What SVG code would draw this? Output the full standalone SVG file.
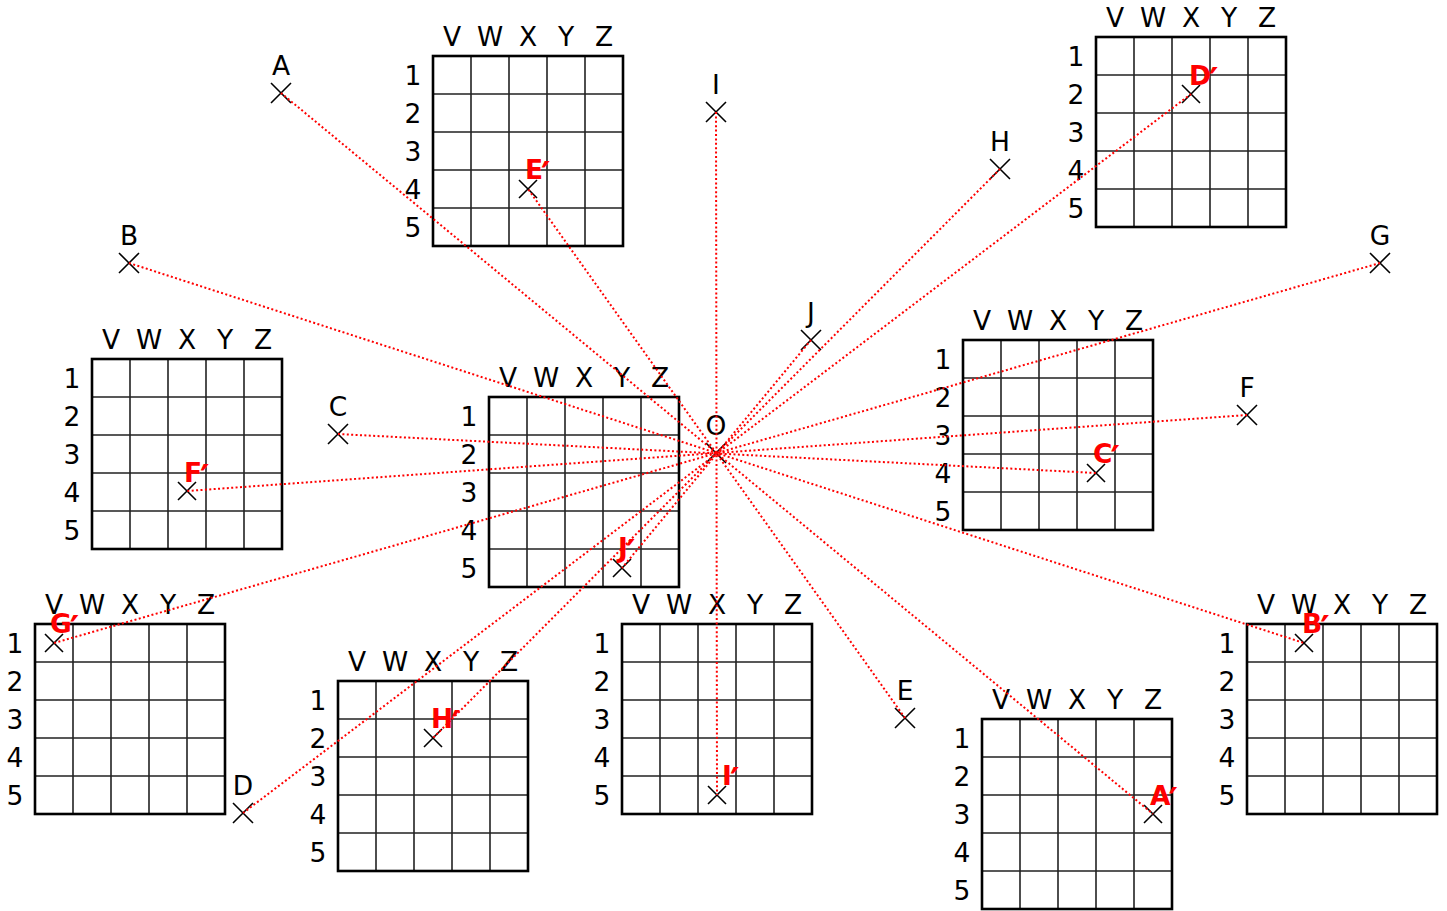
<svg xmlns="http://www.w3.org/2000/svg" xmlns:xlink="http://www.w3.org/1999/xlink" width="1447" height="911" viewBox="0 0 1447 911">
<style>
.lbl{font-family:"DejaVu Sans","Verdana",sans-serif;font-size:26.5px;fill:#000;text-anchor:middle}
.pl{font-family:"DejaVu Sans","Verdana",sans-serif;font-size:26.5px;font-weight:bold;fill:#ff0000}
.pr{font-size:36px;font-weight:bold}
.mk{stroke:#000;stroke-width:1.6;fill:none}
.cn{stroke:#ff0000;stroke-width:2;stroke-dasharray:2 2.4;fill:none}
</style>
<defs>
<g id="grid5">
<path d="M38,0V190M76,0V190M114,0V190M152,0V190M0,38H190M0,76H190M0,114H190M0,152H190" stroke="#222" stroke-width="1.6" fill="none"/>
<rect x="0" y="0" width="190" height="190" fill="none" stroke="#000" stroke-width="2.6"/>
</g>
<path id="xs" d="M-9,-9L9,9M9,-9L-9,9"/>
<path id="xl" d="M-10,-10L10,10M10,-10L-10,10"/>
</defs>
<rect width="1447" height="911" fill="#fff"/>

<g id="grid-E">
<use xlink:href="#grid5" href="#grid5" x="433" y="56"/>
<text class="lbl" x="452 490 528 566 604" y="46">VWXYZ</text>
<text class="lbl" x="413 413 413 413 413" y="84.5 122.5 160.5 198.5 236.5">12345</text>
</g>
<g id="grid-J">
<use xlink:href="#grid5" href="#grid5" x="489" y="397"/>
<text class="lbl" x="508 546 584 622 660" y="387">VWXYZ</text>
<text class="lbl" x="469 469 469 469 469" y="425.5 463.5 501.5 539.5 577.5">12345</text>
</g>
<g id="grid-D">
<use xlink:href="#grid5" href="#grid5" x="1096" y="37"/>
<text class="lbl" x="1115 1153 1191 1229 1267" y="27">VWXYZ</text>
<text class="lbl" x="1076 1076 1076 1076 1076" y="65.5 103.5 141.5 179.5 217.5">12345</text>
</g>
<g id="grid-G">
<use xlink:href="#grid5" href="#grid5" x="35" y="624"/>
<text class="lbl" x="54 92 130 168 206" y="614">VWXYZ</text>
<text class="lbl" x="15 15 15 15 15" y="652.5 690.5 728.5 766.5 804.5">12345</text>
</g>
<g id="grid-A">
<use xlink:href="#grid5" href="#grid5" x="982" y="719"/>
<text class="lbl" x="1001 1039 1077 1115 1153" y="709">VWXYZ</text>
<text class="lbl" x="962 962 962 962 962" y="747.5 785.5 823.5 861.5 899.5">12345</text>
</g>
<g id="grid-B">
<use xlink:href="#grid5" href="#grid5" x="1247" y="624"/>
<text class="lbl" x="1266 1304 1342 1380 1418" y="614">VWXYZ</text>
<text class="lbl" x="1227 1227 1227 1227 1227" y="652.5 690.5 728.5 766.5 804.5">12345</text>
</g>
<g id="grid-F">
<use xlink:href="#grid5" href="#grid5" x="92" y="359"/>
<text class="lbl" x="111 149 187 225 263" y="349">VWXYZ</text>
<text class="lbl" x="72 72 72 72 72" y="387.5 425.5 463.5 501.5 539.5">12345</text>
</g>
<g id="grid-C">
<use xlink:href="#grid5" href="#grid5" x="963" y="340"/>
<text class="lbl" x="982 1020 1058 1096 1134" y="330">VWXYZ</text>
<text class="lbl" x="943 943 943 943 943" y="368.5 406.5 444.5 482.5 520.5">12345</text>
</g>
<g id="grid-H">
<use xlink:href="#grid5" href="#grid5" x="338" y="681"/>
<text class="lbl" x="357 395 433 471 509" y="671">VWXYZ</text>
<text class="lbl" x="318 318 318 318 318" y="709.5 747.5 785.5 823.5 861.5">12345</text>
</g>
<g id="grid-I">
<use xlink:href="#grid5" href="#grid5" x="622" y="624"/>
<text class="lbl" x="641 679 717 755 793" y="614">VWXYZ</text>
<text class="lbl" x="602 602 602 602 602" y="652.5 690.5 728.5 766.5 804.5">12345</text>
</g>

<g id="pt-A"><use xlink:href="#xl" href="#xl" class="mk" x="281" y="93"/><text class="lbl" x="281" y="75">A</text></g>
<g id="pt-B"><use xlink:href="#xl" href="#xl" class="mk" x="129" y="263"/><text class="lbl" x="129" y="245">B</text></g>
<g id="pt-C"><use xlink:href="#xl" href="#xl" class="mk" x="338" y="434"/><text class="lbl" x="338" y="416">C</text></g>
<g id="pt-D"><use xlink:href="#xl" href="#xl" class="mk" x="243" y="813"/><text class="lbl" x="243" y="795">D</text></g>
<g id="pt-E"><use xlink:href="#xl" href="#xl" class="mk" x="905" y="718"/><text class="lbl" x="905" y="700">E</text></g>
<g id="pt-F"><use xlink:href="#xl" href="#xl" class="mk" x="1247" y="415"/><text class="lbl" x="1247" y="397">F</text></g>
<g id="pt-G"><use xlink:href="#xl" href="#xl" class="mk" x="1380" y="263"/><text class="lbl" x="1380" y="245">G</text></g>
<g id="pt-H"><use xlink:href="#xl" href="#xl" class="mk" x="1000" y="169"/><text class="lbl" x="1000" y="151">H</text></g>
<g id="pt-I"><use xlink:href="#xl" href="#xl" class="mk" x="716" y="112"/><text class="lbl" x="716" y="94">I</text></g>
<g id="pt-J"><use xlink:href="#xl" href="#xl" class="mk" x="811" y="340"/><text class="lbl" x="811" y="322">J</text></g>
<g id="pt-O"><use xlink:href="#xl" href="#xl" class="mk" x="716" y="453"/><text class="lbl" x="716" y="435">O</text></g>

<g id="pt-A2"><use xlink:href="#xs" href="#xs" class="mk" x="1153" y="814"/></g>
<g id="pt-B2"><use xlink:href="#xs" href="#xs" class="mk" x="1304" y="643"/></g>
<g id="pt-C2"><use xlink:href="#xs" href="#xs" class="mk" x="1096" y="473"/></g>
<g id="pt-D2"><use xlink:href="#xs" href="#xs" class="mk" x="1191" y="94"/></g>
<g id="pt-E2"><use xlink:href="#xs" href="#xs" class="mk" x="528" y="189"/></g>
<g id="pt-F2"><use xlink:href="#xs" href="#xs" class="mk" x="187" y="491"/></g>
<g id="pt-G2"><use xlink:href="#xs" href="#xs" class="mk" x="54" y="643"/></g>
<g id="pt-H2"><use xlink:href="#xs" href="#xs" class="mk" x="433" y="738"/></g>
<g id="pt-I2"><use xlink:href="#xs" href="#xs" class="mk" x="717" y="795"/></g>
<g id="pt-J2"><use xlink:href="#xs" href="#xs" class="mk" x="622" y="568"/></g>

<g id="connectors">
<line class="cn" x1="281" y1="93" x2="1153" y2="814"/>
<line class="cn" x1="129" y1="263" x2="1304" y2="643"/>
<line class="cn" x1="338" y1="434" x2="1096" y2="473"/>
<line class="cn" x1="243" y1="813" x2="1191" y2="94"/>
<line class="cn" x1="905" y1="718" x2="528" y2="189"/>
<line class="cn" x1="1247" y1="415" x2="187" y2="491"/>
<line class="cn" x1="1380" y1="263" x2="54" y2="643"/>
<line class="cn" x1="1000" y1="169" x2="433" y2="738"/>
<line class="cn" x1="716" y1="112" x2="717" y2="795"/>
<line class="cn" x1="811" y1="340" x2="622" y2="568"/>
</g>

<g id="prime-labels">
<text class="pl" x="1150" y="805">A<tspan class="pr" dx="-2" dy="8">′</tspan></text>
<text class="pl" x="1302" y="633">B<tspan class="pr" dx="-2" dy="8">′</tspan></text>
<text class="pl" x="1093" y="463">C<tspan class="pr" dx="-2" dy="8">′</tspan></text>
<text class="pl" x="1189" y="85">D<tspan class="pr" dx="-2" dy="8">′</tspan></text>
<text class="pl" x="525" y="179">E<tspan class="pr" dx="-2" dy="8">′</tspan></text>
<text class="pl" x="184" y="482">F<tspan class="pr" dx="-2" dy="8">′</tspan></text>
<text class="pl" x="50" y="633">G<tspan class="pr" dx="-2" dy="8">′</tspan></text>
<text class="pl" x="431" y="728">H<tspan class="pr" dx="-2" dy="8">′</tspan></text>
<text class="pl" x="722" y="785">I<tspan class="pr" dx="-2" dy="8">′</tspan></text>
<text class="pl" x="618" y="557">J<tspan class="pr" dx="-2" dy="8">′</tspan></text>
</g>
</svg>
